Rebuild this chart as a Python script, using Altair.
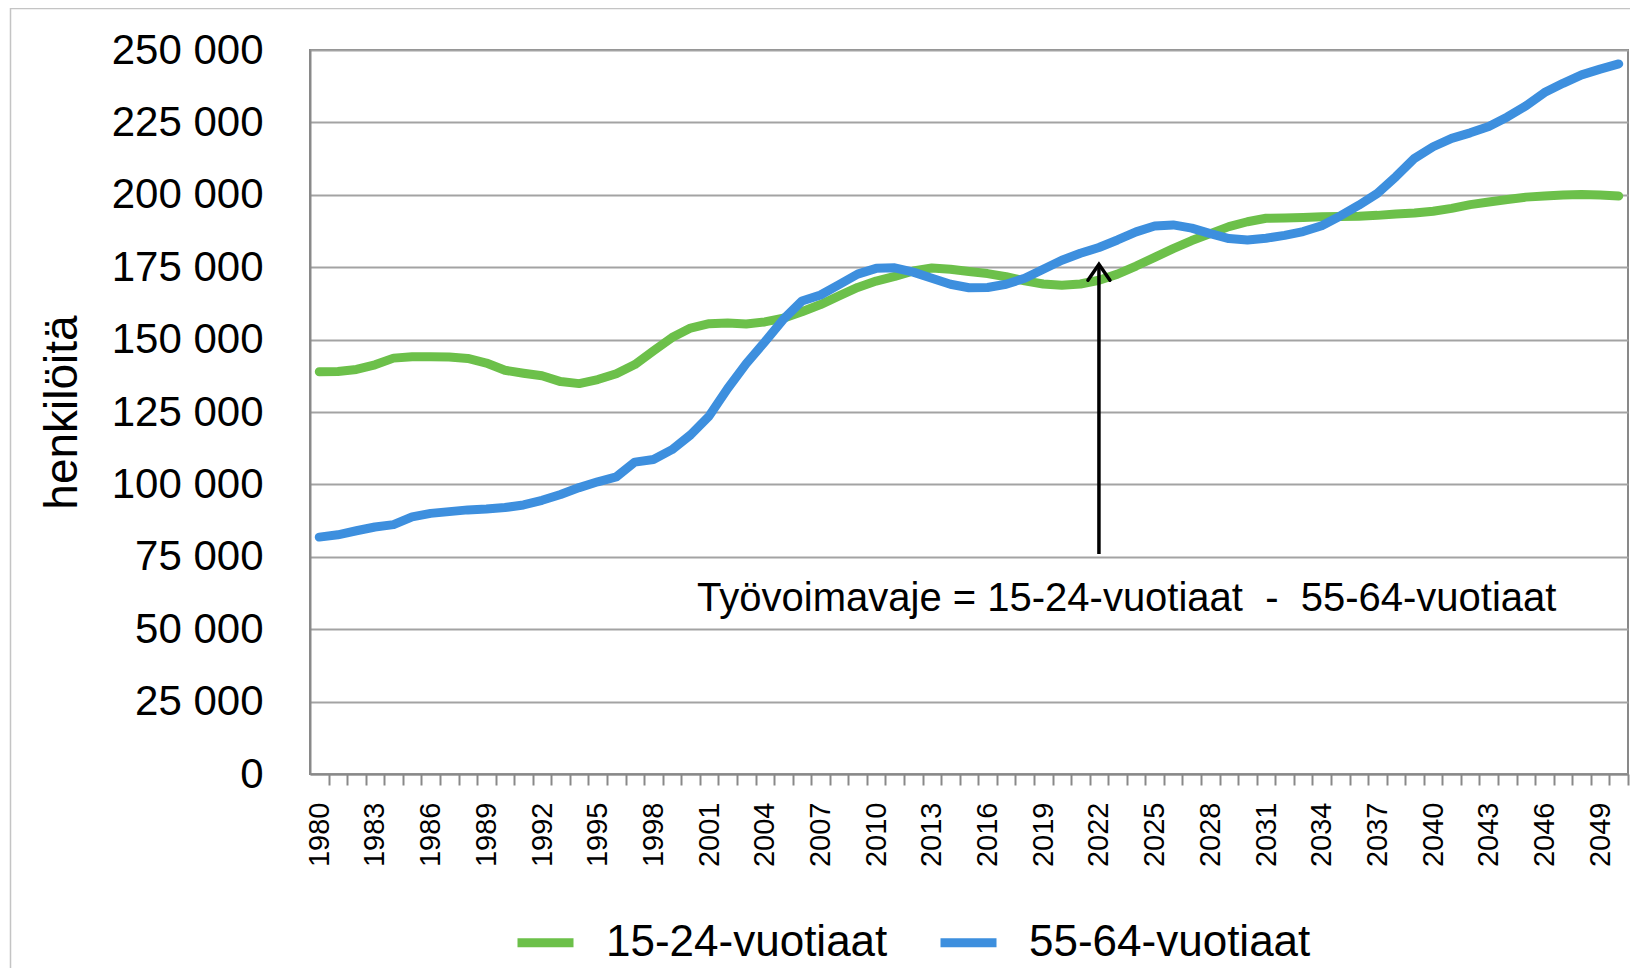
import altair as alt
import pandas as pd

# ---- data (thousands of persons), years 1980-2050 ----
years = list(range(1980, 2051))
young = [138.9, 139.0, 139.7, 141.3, 143.6, 144.1, 144.1, 144.0, 143.5, 141.9,
         139.4, 138.4, 137.5, 135.5, 134.8, 136.2, 138.2, 141.4, 146.1, 150.7,
         154.0, 155.5, 155.7, 155.4, 156.1, 157.4, 159.6, 162.1, 165.1, 168.0,
         170.2, 171.8, 173.7, 174.7, 174.3, 173.5, 172.8, 171.7, 170.3, 169.2,
         168.8, 169.2, 170.5, 172.6, 175.4, 178.4, 181.4, 184.2, 186.6, 189.0,
         190.7, 191.9, 192.0, 192.2, 192.4, 192.5, 192.6, 192.9, 193.4, 193.7,
         194.3, 195.3, 196.6, 197.5, 198.4, 199.2, 199.6, 199.9, 200.1, 199.9,
         199.6]
old = [81.8, 82.6, 84.0, 85.3, 86.1, 88.8, 90.0, 90.6, 91.2, 91.5,
       92.0, 92.9, 94.5, 96.5, 98.9, 100.9, 102.6, 107.7, 108.6, 112.0,
       117.1, 123.6, 133.1, 141.7, 149.2, 157.0, 163.3, 165.4, 169.0, 172.6,
       174.6, 174.8, 173.3, 171.2, 169.1, 167.9, 168.0, 169.1, 171.2, 174.3,
       177.4, 179.8, 181.8, 184.4, 187.2, 189.2, 189.6, 188.5, 186.6, 184.9,
       184.4, 185.0, 186.0, 187.3, 189.3, 192.7, 196.4, 200.5, 206.3, 212.6,
       216.6, 219.5, 221.4, 223.6, 226.9, 230.7, 235.3, 238.5, 241.4, 243.4,
       245.2]
series_names = ["15-24-vuotiaat", "55-64-vuotiaat"]
series_colors = ["#6cc04a", "#3d8fde"]
y_ticks = list(range(0, 250001, 25000))

note_text = "Työvoimavaje = 15-24-vuotiaat \u00a0-\u00a0 55-64-vuotiaat"
arrow_year = 2022.0
arrow_from = 76000
arrow_to = 176000
note_year = 2023.5
note_value = 56300

FONT = "Liberation Sans, Arial, sans-serif"

df = pd.DataFrame({
    "vuosi": years + years,
    "henkiloita": [v * 1000 for v in young] + [v * 1000 for v in old],
    "ryhma": [series_names[0]] * len(years) + [series_names[1]] * len(years),
})
ann = pd.DataFrame({"x": [arrow_year], "y0": [arrow_from], "y1": [arrow_to],
                    "tx": [note_year], "ty": [note_value], "t": [note_text]})

W, H = 1318, 724
half = W / len(years) / 2

x_enc = alt.X(
    "vuosi:Q",
    scale=alt.Scale(domain=[1979.5, 2050.5], nice=False, zero=False),
    axis=alt.Axis(
        values=years, tickCount=300,
        labelExpr="datum.value % 3 == 0 ? '' + datum.value : ''",
        labelAngle=-90, labelFontSize=29, labelFont=FONT, labelColor="black",
        labelPadding=17, tickSize=11, tickWidth=2, tickColor="#898989",
        tickOffset=half, labelOffset=-half, grid=False, title=None,
        domainColor="#898989", domainWidth=2, labelOverlap=False,
    ),
)
y_enc = alt.Y(
    "henkiloita:Q",
    scale=alt.Scale(domain=[0, 250000], nice=False),
    axis=alt.Axis(
        values=y_ticks, tickCount=200,
        labelExpr="datum.value == 0 ? '0' : (datum.value/1000) + ' 000'",
        labelFontSize=42, labelFont=FONT, labelColor="black", ticks=False,
        labelPadding=47, grid=True, gridColor="#a3a3a3", gridWidth=2,
        domainColor="#898989", domainWidth=2,
        title="henkilöitä", titleFont=FONT, titleFontSize=46,
        titleFontWeight="normal", titleColor="black", titleAngle=-90,
        titleX=-248, titleY=362, titleAlign="center", titleBaseline="middle",
    ),
)

lines = alt.Chart(df).mark_line(strokeWidth=9, strokeCap="round", strokeJoin="round").encode(
    x=x_enc,
    y=y_enc,
    color=alt.Color(
        "ryhma:N",
        scale=alt.Scale(domain=series_names, range=series_colors),
        legend=alt.Legend(
            title=None, orient="none", legendX=203, legendY=860,
            direction="horizontal", labelFont=FONT, labelFontSize=44,
            labelColor="black", labelLimit=0, symbolType="stroke",
            symbolStrokeWidth=9, symbolSize=3136, labelOffset=28,
            columnPadding=34, padding=0,
        ),
    ),
)

frame = alt.Chart(ann).mark_rect(fill=None, fillOpacity=0, stroke="#c4c4c4", strokeWidth=1.5).encode(
    x=alt.value(-299.5), x2=alt.value(1330), y=alt.value(-41.5), y2=alt.value(1000)
)

arrow_line = alt.Chart(ann).mark_rule(color="black", strokeWidth=3.5).encode(
    x="x:Q", y="y0:Q", y2="y1:Q"
)
arrow_head = alt.Chart(ann).mark_point(
    shape="M -1 1.45 L 0 0 L 1 1.45", size=484, filled=False, color="black",
    strokeWidth=3.5, opacity=1, strokeJoin="miter", strokeCap="round",
).encode(x="x:Q", y="y1:Q")
note = alt.Chart(ann).mark_text(
    font=FONT, fontSize=40, align="center", baseline="alphabetic", color="black"
).encode(x="tx:Q", y="ty:Q", text="t:N")

chart = alt.layer(frame, lines, arrow_line, arrow_head, note).properties(
    width=W, height=H,
    padding={"left": 302, "top": 42, "right": 2, "bottom": 194},
    autosize=alt.AutoSizeParams(type="none"),
    background="white",
).configure_view(stroke="#898989", strokeWidth=2)

chart.save("out.html", embed_options={"renderer": "svg", "actions": False})
